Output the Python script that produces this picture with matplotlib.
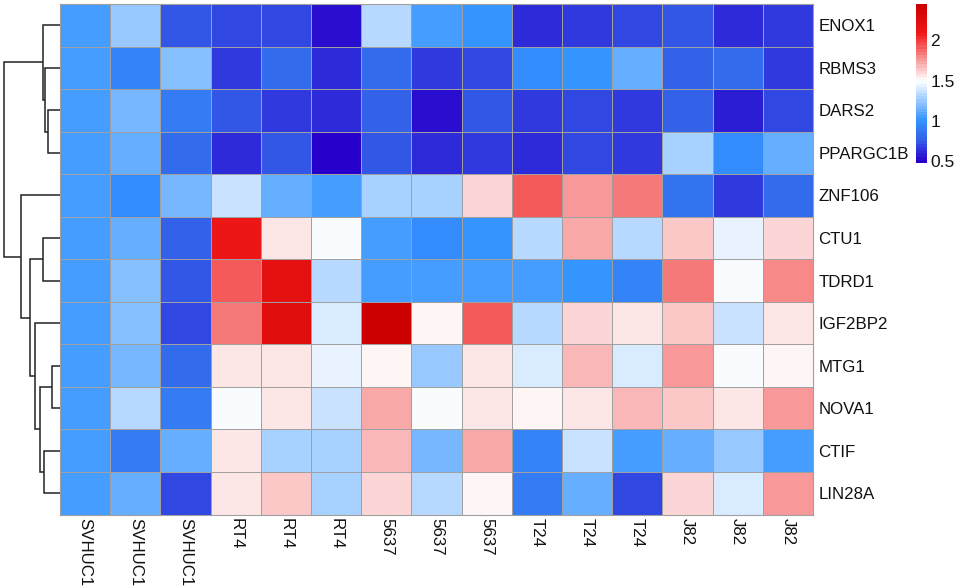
import numpy as np
import matplotlib
matplotlib.use("Agg")
import matplotlib.pyplot as plt
from matplotlib.colors import LinearSegmentedColormap

plt.rcParams["font.family"] = ["Liberation Sans", "DejaVu Sans"]

samples = ["SVHUC1", "SVHUC1", "SVHUC1", "RT4", "RT4", "RT4", "5637", "5637", "5637",
           "T24", "T24", "T24", "J82", "J82", "J82"]
genes = ["ENOX1", "RBMS3", "DARS2", "PPARGC1B", "ZNF106", "CTU1", "TDRD1", "IGF2BP2",
         "MTG1", "NOVA1", "CTIF", "LIN28A"]

ENOX1 = [1.06, 1.25, 0.75, 0.68, 0.70, 0.54, 1.32, 1.05, 1.02, 0.60, 0.64, 0.68, 0.72, 0.62, 0.64]
RBMS3 = [1.06, 0.93, 1.22, 0.65, 0.80, 0.60, 0.80, 0.64, 0.70, 0.97, 1.03, 1.12, 0.78, 0.80, 0.67]
DARS2 = [1.06, 1.17, 0.90, 0.72, 0.66, 0.60, 0.76, 0.52, 0.72, 0.64, 0.68, 0.64, 0.78, 0.57, 0.68]
PPARGC1B = [1.06, 1.12, 0.80, 0.62, 0.72, 0.50, 0.74, 0.60, 0.64, 0.62, 0.70, 0.64, 1.28, 0.97, 1.12]
ZNF106 = [1.06, 0.98, 1.17, 1.38, 1.14, 1.05, 1.30, 1.30, 1.62, 1.93, 1.78, 1.85, 0.85, 0.64, 0.80]
CTU1 = [1.06, 1.12, 0.78, 2.10, 1.58, 1.47, 1.05, 0.98, 1.02, 1.32, 1.72, 1.33, 1.65, 1.43, 1.62]
TDRD1 = [1.06, 1.22, 0.72, 1.90, 2.20, 1.33, 1.07, 1.07, 1.07, 1.07, 1.02, 0.95, 1.85, 1.49, 1.80]
IGF2BP2 = [1.06, 1.22, 0.68, 1.82, 2.22, 1.42, 2.45, 1.52, 1.90, 1.32, 1.60, 1.57, 1.66, 1.35, 1.57]
MTG1 = [1.06, 1.15, 0.82, 1.58, 1.58, 1.43, 1.52, 1.25, 1.57, 1.42, 1.70, 1.42, 1.75, 1.49, 1.52]
NOVA1 = [1.06, 1.32, 0.88, 1.48, 1.58, 1.37, 1.72, 1.48, 1.58, 1.53, 1.57, 1.70, 1.63, 1.58, 1.75]
CTIF = [1.06, 0.90, 1.12, 1.58, 1.30, 1.27, 1.70, 1.17, 1.72, 0.95, 1.37, 1.05, 1.12, 1.24, 1.07]
LIN28A = [1.06, 1.14, 0.68, 1.58, 1.65, 1.27, 1.62, 1.32, 1.52, 0.88, 1.12, 0.68, 1.60, 1.42, 1.75]

matrix = np.array([ENOX1, RBMS3, DARS2, PPARGC1B, ZNF106, CTU1, TDRD1, IGF2BP2,
                   MTG1, NOVA1, CTIF, LIN28A])

# row dendrogram: (child a, child b, height), new clusters numbered from 12
merges = [
    (2, 3, 11.7),      # 12
    (1, 12, 15.3),     # 13
    (0, 13, 17.3),     # 14
    (5, 6, 17.0),      # 15
    (8, 9, 7.7),       # 16
    (10, 11, 16.3),    # 17
    (16, 17, 19.7),    # 18
    (7, 18, 24.7),     # 19
    (15, 19, 29.7),    # 20
    (4, 20, 39.3),     # 21
    (14, 21, 56.0),    # 22
]

W, H = 957, 588
vmin, vmax = 0.48, 2.45
cmap = LinearSegmentedColormap.from_list(
    "ramp",
    [(0.0, "#2800cc"),
     ((0.75 - vmin) / (vmax - vmin), "#3360e8"),
     ((1.0 - vmin) / (vmax - vmin), "#3494ff"),
     ((1.5 - vmin) / (vmax - vmin), "#ffffff"),
     ((2.1 - vmin) / (vmax - vmin), "#f01818"),
     (1.0, "#cc0000")],
    N=50,
)


def px_axes(x0, y0, x1, y1):
    return fig.add_axes([x0 / W, 1 - y1 / H, (x1 - x0) / W, (y1 - y0) / H])


fig = plt.figure(figsize=(W / 100, H / 100), dpi=100)

# heatmap
ax = px_axes(60, 4, 813, 514.5)
ax.pcolormesh(matrix, cmap=cmap, vmin=vmin, vmax=vmax, edgecolors="#a0a0a0", linewidth=0.6)
ax.set_xlim(0, len(samples))
ax.set_ylim(len(genes), 0)
ax.set_xticks(np.arange(len(samples)) + 0.5)
ax.set_xticklabels(samples, rotation=270, fontsize=12.2, color="#111111")
ax.set_yticks(np.arange(len(genes)) + 0.5)
ax.set_yticklabels(genes, fontsize=12.2, color="#111111")
ax.yaxis.tick_right()
ax.tick_params(axis="x", length=0, pad=2.5)
ax.tick_params(axis="y", length=0, pad=4)
for s in ax.spines.values():
    s.set_color("#a0a0a0")
    s.set_linewidth(0.8)

# dendrogram, height measured leftwards from the heatmap edge
dax = px_axes(0, 4, 60, 514.5)
dax.set_xlim(60, 0)
dax.set_ylim(len(genes), 0)
dax.axis("off")
pos = {i: (0.0, i + 0.5) for i in range(len(genes))}
for k, (a, b, h) in enumerate(merges):
    ha, ya = pos[a]
    hb, yb = pos[b]
    dax.plot([ha, h, h, hb], [ya, ya, yb, yb], color="#222222", lw=1.1,
             solid_joinstyle="miter", solid_capstyle="butt")
    pos[len(genes) + k] = (h, (ya + yb) / 2)

# colour bar
cax = px_axes(916, 4, 927, 163)
sm = plt.cm.ScalarMappable(cmap=cmap, norm=plt.Normalize(vmin, vmax))
cb = fig.colorbar(sm, cax=cax, ticks=[0.5, 1, 1.5, 2])
cb.ax.set_yticklabels(["0.5", "1", "1.5", "2"], fontsize=12.5, color="#111111")
cb.ax.tick_params(length=0, pad=2.5)
cb.outline.set_visible(False)

fig.savefig("out.png", dpi=100)
